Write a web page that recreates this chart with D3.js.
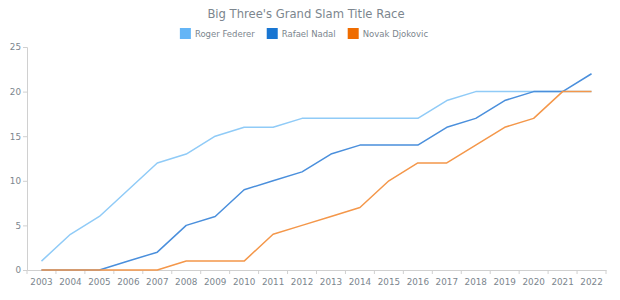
<!DOCTYPE html>
<html>
<head>
<meta charset="utf-8">
<script src="https://cdn.jsdelivr.net/npm/d3@7"></script>
<style>
  body { margin: 0; background: #fff; }
  text { font-family: "DejaVu Sans", Verdana, sans-serif; }
</style>
</head>
<body>
<div id="chart"></div>
<script>
// data
const years = ["2003", "2004", "2005", "2006", "2007", "2008", "2009", "2010", "2011", "2012",
               "2013", "2014", "2015", "2016", "2017", "2018", "2019", "2020", "2021", "2022"];
const federer  = [1, 4, 6, 9, 12, 13, 15, 16, 16, 17, 17, 17, 17, 17, 19, 20, 20, 20, 20, 20];
const nadal    = [0, 0, 0, 1, 2, 5, 6, 9, 10, 11, 13, 14, 14, 14, 16, 17, 19, 20, 20, 22];
const djokovic = [0, 0, 0, 0, 0, 1, 1, 1, 4, 5, 6, 7, 10, 12, 12, 14, 16, 17, 20, 20];
const yTicks = [0, 5, 10, 15, 20, 25];

const series = [
    { name: "Roger Federer", values: federer, color: "#64b5f6", line: "#90cbf7" },
    { name: "Rafael Nadal", values: nadal, color: "#1976d2", line: "#4a8fdc" },
    { name: "Novak Djokovic", values: djokovic, color: "#ef6c00", line: "#f4974a" }
];

const width = 620, height = 300;
const margin = { top: 47, right: 14, bottom: 30, left: 27 };
const innerWidth = width - margin.left - margin.right;
const innerHeight = height - margin.top - margin.bottom;
const textColor = "#7c868e";
const axisColor = "#d0d0d0";
const centerX = 306; // header sits a bit left of the page centre

const svg = d3.select("#chart").append("svg")
    .attr("width", width)
    .attr("height", height);

// title
svg.append("text")
    .attr("x", centerX)
    .attr("y", 18)
    .attr("text-anchor", "middle")
    .style("font-size", "11.6px")
    .style("fill", textColor)
    .text("Big Three's Grand Slam Title Race");

// legend, centered
const legend = svg.append("g");
let lx = 0;
series.forEach(s => {
    const g = legend.append("g").attr("transform", `translate(${lx},0)`);
    g.append("rect")
        .attr("x", 0).attr("y", -6)
        .attr("width", 11).attr("height", 11)
        .attr("fill", s.color);
    const t = g.append("text")
        .attr("x", 15).attr("y", 0).attr("dy", "0.35em")
        .style("font-size", "8.5px")
        .style("fill", textColor)
        .text(s.name);
    lx += 15 + t.node().getComputedTextLength() + 12;
});
const legendWidth = lx - 12;
legend.attr("transform", `translate(${centerX - 2 - legendWidth / 2},34)`);

const plot = svg.append("g")
    .attr("transform", `translate(${margin.left},${margin.top})`);

const x = d3.scaleBand().domain(years).range([0, innerWidth]);
const y = d3.scaleLinear().domain([0, 25]).range([innerHeight, 0]);

// y axis
const yAxis = plot.append("g")
    .call(d3.axisLeft(y).tickValues(yTicks).tickSize(4).tickPadding(2));
yAxis.select(".domain").attr("stroke", axisColor);
yAxis.selectAll(".tick line").attr("stroke", axisColor);
yAxis.selectAll(".tick text").style("fill", textColor).style("font-size", "8.8px");

// x axis, ticks at band edges
const xAxis = plot.append("g")
    .attr("transform", `translate(0,${innerHeight})`)
    .call(d3.axisBottom(x).tickSize(0).tickPadding(9));
xAxis.select(".domain").attr("stroke", axisColor);
xAxis.selectAll(".tick text").style("fill", textColor).style("font-size", "8.8px");
xAxis.selectAll(".edge")
    .data(years.concat(["end"]))
    .join("line")
    .attr("class", "edge")
    .attr("x1", (d, i) => i * x.step())
    .attr("x2", (d, i) => i * x.step())
    .attr("y1", 0).attr("y2", 4)
    .attr("stroke", axisColor);

// lines
const line = d3.line()
    .x((d, i) => x(years[i]) + x.bandwidth() / 2)
    .y(d => y(d));

series.forEach(s => {
    plot.append("path")
        .datum(s.values)
        .attr("fill", "none")
        .attr("stroke", s.line)
        .attr("stroke-width", 1.5)
        .attr("stroke-linejoin", "round")
        .attr("d", line);
});
</script>
</body>
</html>
